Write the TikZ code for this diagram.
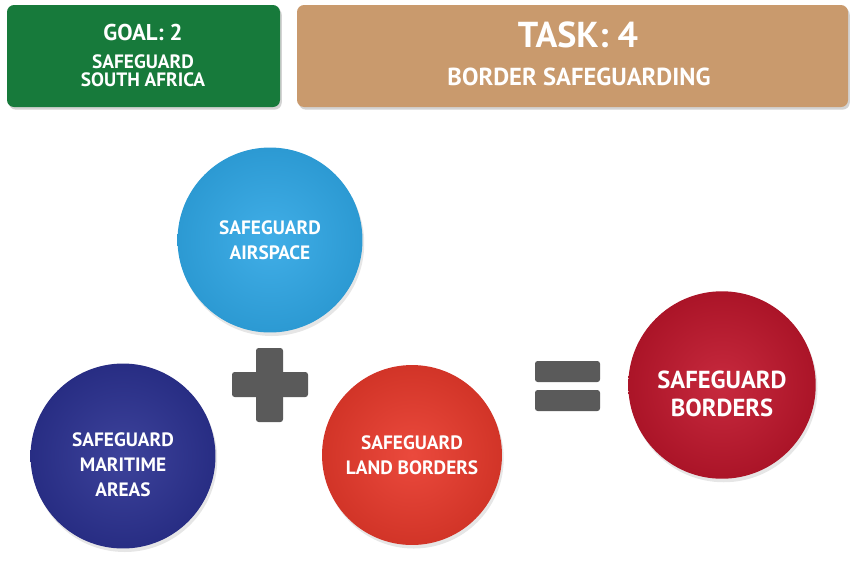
\documentclass[tikz,border=0pt]{standalone}
\usepackage{fontspec}
\setmainfont{PT Sans}
\usepackage{tikz}
\usetikzlibrary{shadows}
\definecolor{goalgreen}{HTML}{177A3B}
\definecolor{tasktan}{HTML}{C99A6D}
\definecolor{skyblue}{HTML}{30A7E5}
\definecolor{navyblue}{HTML}{2C3292}
\definecolor{redorange}{HTML}{E93A2C}
\definecolor{darkred}{HTML}{C2172D}
\definecolor{signgray}{HTML}{5A5A5A}
\tikzset{
  headbox/.style={rounded corners=4pt, drop shadow={opacity=.35, shadow xshift=1pt, shadow yshift=-1.5pt}},
  ball/.style={circle, minimum size=#1, inner sep=0pt,
    drop shadow={opacity=.2, shadow xshift=1pt, shadow yshift=-2pt}},
  balltext/.style={text=white, align=center, font=\bfseries\fontsize{11}{14}\selectfont},
  signbar/.style={fill=signgray, rounded corners=1.5pt},
}

\begin{document}
\begin{tikzpicture}[x=0.02cm, y=-0.02cm]
      \useasboundingbox (0, 0) rectangle (851, 566);
      % headers
      \fill[headbox, goalgreen] (7, 5) rectangle (280, 107);
      \fill[headbox, tasktan] (297, 5) rectangle (848, 107);
      \node[text=white, font=\bfseries\fontsize{13}{15}\selectfont] (goal) at (143, 32) {GOAL: 2};
      \node[text=white, align=center, font=\bfseries\fontsize{11}{10.5}\selectfont] (goaltxt) at (143, 71) {SAFEGUARD\\SOUTH AFRICA};
      \node[text=white, font=\bfseries\fontsize{20.5}{22}\selectfont] (task) at (578, 35) {TASK: 4};
      \node[text=white, font=\bfseries\fontsize{14}{16}\selectfont] (tasktxt) at (579, 77) {BORDER SAFEGUARDING};
      % circles
      \node[ball=3.7cm, inner color=skyblue!92!white, outer color=skyblue!92!black] (air) at (270, 240) {};
      \node[ball=3.7cm, inner color=navyblue!92!white, outer color=navyblue!90!black] (sea) at (123, 456) {};
      \node[ball=3.6cm, inner color=redorange!92!white, outer color=redorange!90!black] (land) at (412, 455) {};
      \node[ball=3.75cm, inner color=darkred!92!white, outer color=darkred!88!black] (borders) at (722, 385) {};
      % circle texts
      \node[balltext] (airtxt) at (air) {SAFEGUARD\\AIRSPACE};
      \node[balltext, yshift=-5pt] (seatxt) at (sea) {SAFEGUARD\\MARITIME\\AREAS};
      \node[balltext] (landtxt) at (land) {SAFEGUARD\\LAND BORDERS};
      \node[balltext, yshift=-5pt, font=\bfseries\fontsize{14}{16}\selectfont] (borderstxt) at (borders) {SAFEGUARD\\BORDERS};
      % plus and equals
      \fill[signbar] (232, 372) rectangle (308, 397);
      \fill[signbar] (256, 348) rectangle (283, 422);
      \fill[signbar] (535, 361) rectangle (600, 382);
      \fill[signbar] (535, 390) rectangle (600, 411);
\end{tikzpicture}
\end{document}
